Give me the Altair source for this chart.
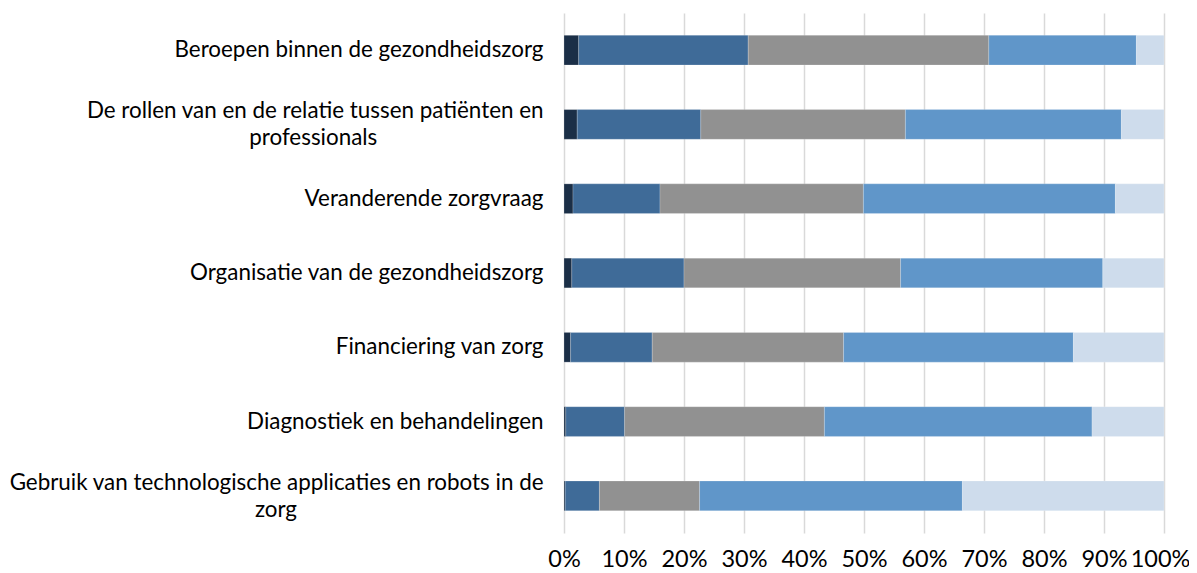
import altair as alt
import pandas as pd

categories = [
    "Beroepen binnen de gezondheidszorg",
    "De rollen van en de relatie tussen patiënten en|professionals",
    "Veranderende zorgvraag",
    "Organisatie van de gezondheidszorg",
    "Financiering van zorg",
    "Diagnostiek en behandelingen",
    "Gebruik van technologische applicaties en robots in de|zorg",
]
series = ["s1", "s2", "s3", "s4", "s5"]
s1 = [2.45, 2.2, 1.5, 1.3, 1.1, 0.3, 0.2]
s2 = [28.25, 20.6, 14.5, 18.7, 13.6, 9.8, 5.7]
s3 = [40.1, 34.1, 33.9, 36.1, 31.9, 33.3, 16.7]
s4 = [24.6, 36.0, 42.0, 33.7, 38.3, 44.6, 43.8]
s5 = [4.6, 7.1, 8.1, 10.2, 15.1, 12.0, 33.6]
colors = ["#1b2f47", "#3f6b98", "#919191", "#6096c9", "#cedcec"]

# trailing non-breaking spaces (closed by a zero-width space so they are not trimmed)
# so the second line sits centred under the first
second_line_pad = [0, 29, 0, 0, 0, 0, 43]
labels = [c + ("\u00a0" * p + "\u200b" if p else "") for c, p in zip(categories, second_line_pad)]

rows = []
for i, c in enumerate(labels):
    for j, vals in enumerate([s1, s2, s3, s4, s5]):
        rows.append({"cat": c, "series": series[j], "order": j, "value": vals[i]})
df = pd.DataFrame(rows)

font = "Lato"
chart = alt.Chart(df).mark_bar(stroke="white", strokeWidth=0.5, strokeOpacity=0.4).encode(
    y=alt.Y("cat:N", sort=labels, title=None,
            scale=alt.Scale(paddingInner=0.6, paddingOuter=0.3),
            axis=alt.Axis(labelExpr="split(datum.label, '|')", ticks=False, domain=False,
                          labelFont=font, labelFontSize=22.4, labelColor="#000000",
                          labelPadding=21, labelLimit=700, labelLineHeight=27,
                          labelAlign="right",
                          labelOffset={"condition": {"test": "indexof(datum.value, '|') >= 0",
                                                     "value": -13},
                                       "value": 0})),
    x=alt.X("value:Q", stack="normalize", title=None,
            axis=alt.Axis(format=".0%", values=[i / 10 for i in range(11)],
                          grid=True, gridColor="#d9d9d9", gridWidth=1.5,
                          domain=False, ticks=False, labelFont=font, labelFontSize=23.5,
                          labelColor="#000000", labelPadding=14, labelFlush=False,
                          labelOffset={"condition": {"test": "datum.value == 1", "value": -4},
                                       "value": 0})),
    color=alt.Color("series:N", scale=alt.Scale(domain=series, range=colors), legend=None),
    order=alt.Order("order:Q"),
).properties(
    width=600, height=520,
    autosize=alt.AutoSizeParams(type="none"),
    padding={"left": 556, "top": 5, "right": 25, "bottom": 40},
).configure_view(stroke=None)

chart.save("out.html", embed_options={"renderer": "svg", "actions": False})
